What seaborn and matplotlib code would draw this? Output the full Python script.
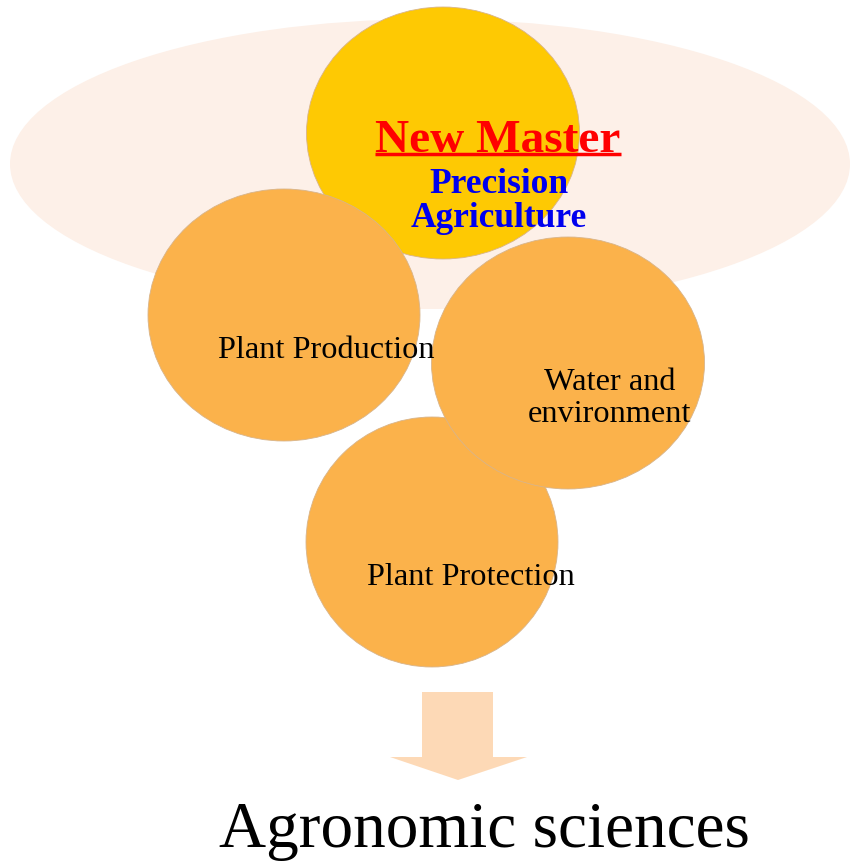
import matplotlib
matplotlib.use("Agg")
import matplotlib.pyplot as plt
import seaborn as sns
from matplotlib.patches import Ellipse, Polygon

sns.set_theme(style="white")
plt.rcParams['font.family'] = ['Liberation Serif', 'DejaVu Serif']

# background ellipse (pixel coords: centre x, centre y, width, height)
halo = (430, 165, 840, 290)

# circles: centre x, centre y, width, height, colour
circle_x = [443, 284, 432, 568]
circle_y = [134, 316, 543, 364]
circle_w = [273, 272, 252, 273]
circle_h = [252, 252, 250, 252]
circle_colors = ["#FEC903", "#FBB24B", "#FBB24B", "#FBB24B"]

# circle labels, one line each, placed on their baseline
labels = ["Plant Production", "Water and", "environment", "Plant Protection"]
label_x = [326, 610, 610, 471]
label_y = [358, 390, 422, 585]

# heading inside the yellow circle
heading = "New Master"
sub_lines = ["Precision", "Agriculture"]
sub_y = [193, 227]
footer = "Agronomic sciences"

# arrow outline
arrow_x = [422, 493, 493, 527, 458, 390, 422]
arrow_y = [693, 693, 758, 758, 781, 758, 758]

fig = plt.figure(figsize=(8.54, 8.62), dpi=100)
ax = fig.add_axes([0, 0, 1, 1])
ax.set_xlim(0, 854)
ax.set_ylim(862, 0)
ax.axis("off")

ax.add_patch(Ellipse(halo[:2], halo[2], halo[3], facecolor="#FDF0E8", edgecolor="none", zorder=1))

for i in range(len(circle_x)):
    ax.add_patch(Ellipse((circle_x[i], circle_y[i]), circle_w[i], circle_h[i],
                         facecolor=circle_colors[i], edgecolor="#d8b48a", linewidth=0.6,
                         zorder=2 + i))

for lab, x, y in zip(labels, label_x, label_y):
    ax.text(x, y, lab, ha="center", va="baseline", fontsize=23.3, color="black", zorder=10)

ax.add_patch(Polygon(list(zip(arrow_x, arrow_y)), closed=True, facecolor="#FDD9B6",
                     edgecolor="none", zorder=2))

title = ax.text(498, 152, heading, ha="center", va="baseline", fontsize=34,
                fontweight="bold", color="#FF0000", zorder=11)
for line, y in zip(sub_lines, sub_y):
    ax.text(499, y, line, ha="center", va="baseline", fontsize=25.5,
            fontweight="bold", color="#0000EE", zorder=11)

ax.text(484, 847, footer, ha="center", va="baseline", fontsize=47,
        color="black", zorder=11)

# underline below "New Master"
fig.canvas.draw()
bb = title.get_window_extent().transformed(ax.transData.inverted())
ax.plot([bb.x0, bb.x1], [155, 155], color="#FF0000", linewidth=2.5, zorder=11,
        solid_capstyle="butt")

plt.savefig("out.png", dpi=100)
